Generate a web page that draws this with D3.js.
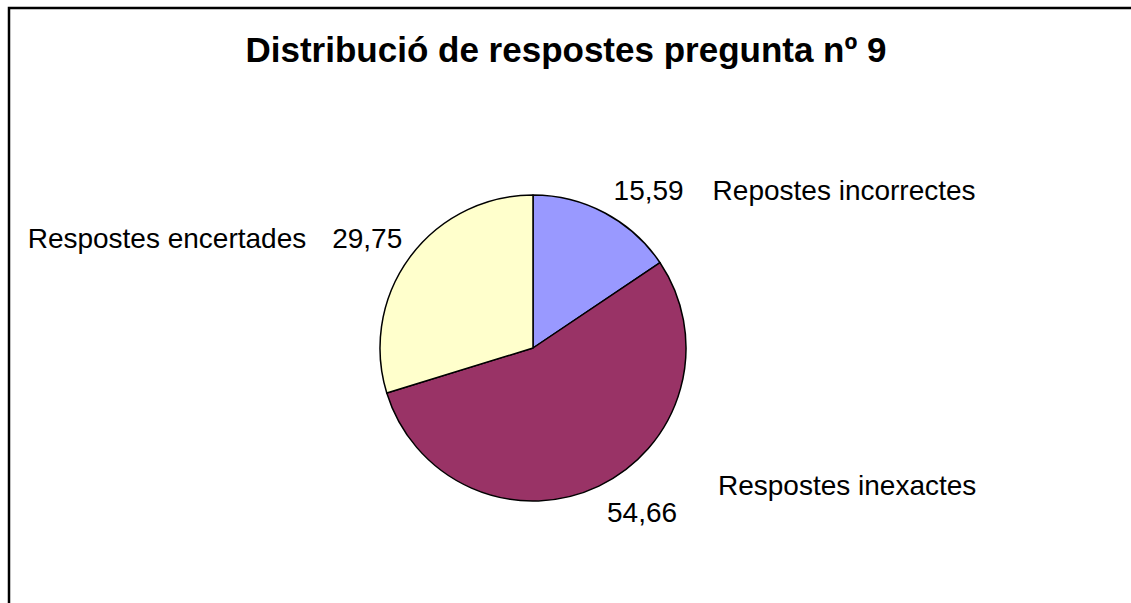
<!DOCTYPE html>
<html>
<head>
<meta charset="utf-8">
<script src="https://cdn.jsdelivr.net/npm/d3@7"></script>
<style>
  body { margin: 0; background: #fff; }
  text { font-family: Arial, "Liberation Sans", sans-serif; fill: #000; }
</style>
</head>
<body>
<div id="chart"></div>
<script>
// dades del gràfic
const categories = ["Repostes incorrectes", "Respostes inexactes", "Respostes encertades"];
const values = [15.59, 54.66, 29.75];
const colors = ["#9999FF", "#993366", "#FFFFCC"];
const titol = "Distribució de respostes pregunta nº 9";

const width = 1131, height = 603;
const cx = 533, cy = 348, radius = 153;

// decalatge de l'etiqueta de nom respecte a la del valor
const nameNudge = [[99, 0], [111, -27], [-96, 0]];

const svg = d3.select("#chart")
    .append("svg")
    .attr("width", width)
    .attr("height", height);

// marc del gràfic (continua fora de la imatge)
svg.append("rect")
    .attr("x", 9).attr("y", 8)
    .attr("width", width + 20).attr("height", height + 20)
    .attr("fill", "none")
    .attr("stroke", "#000")
    .attr("stroke-width", 2.5);

svg.append("text")
    .attr("x", 566).attr("y", 62)
    .attr("text-anchor", "middle")
    .style("font-size", "35px")
    .style("font-weight", "bold")
    .text(titol);

const pie = d3.pie().sort(null).startAngle(0).endAngle(2 * Math.PI);
const arcs = pie(values);
const arc = d3.arc().innerRadius(0).outerRadius(radius);

const g = svg.append("g").attr("transform", `translate(${cx},${cy})`);

g.selectAll("path")
    .data(arcs)
    .enter()
    .append("path")
    .attr("d", arc)
    .attr("fill", (d, i) => colors[i])
    .attr("stroke", "#000")
    .attr("stroke-width", 1.5)
    .attr("stroke-linejoin", "round");

// etiquetes: la cantonada de la caixa mirant al pastís queda a r+12
const fmt = v => d3.format(".2f")(v).replace(".", ",");
arcs.forEach((d, i) => {
    const a = (d.startAngle + d.endAngle) / 2;
    const ax = cx + (radius + 12) * Math.sin(a);
    const ay = cy - (radius + 12) * Math.cos(a);
    const right = Math.sin(a) > 0;
    const upper = Math.cos(a) > 0;
    const tx = ax + (right ? 3 : 2);
    const ty = upper ? ay - 2 : ay + 25;
    svg.append("text")
        .attr("x", tx).attr("y", ty)
        .attr("text-anchor", right ? "start" : "end")
        .style("font-size", "28px")
        .text(fmt(d.data));
    svg.append("text")
        .attr("x", tx + nameNudge[i][0]).attr("y", ty + nameNudge[i][1])
        .attr("text-anchor", right ? "start" : "end")
        .style("font-size", "28px")
        .text(categories[i]);
});
</script>
</body>
</html>
